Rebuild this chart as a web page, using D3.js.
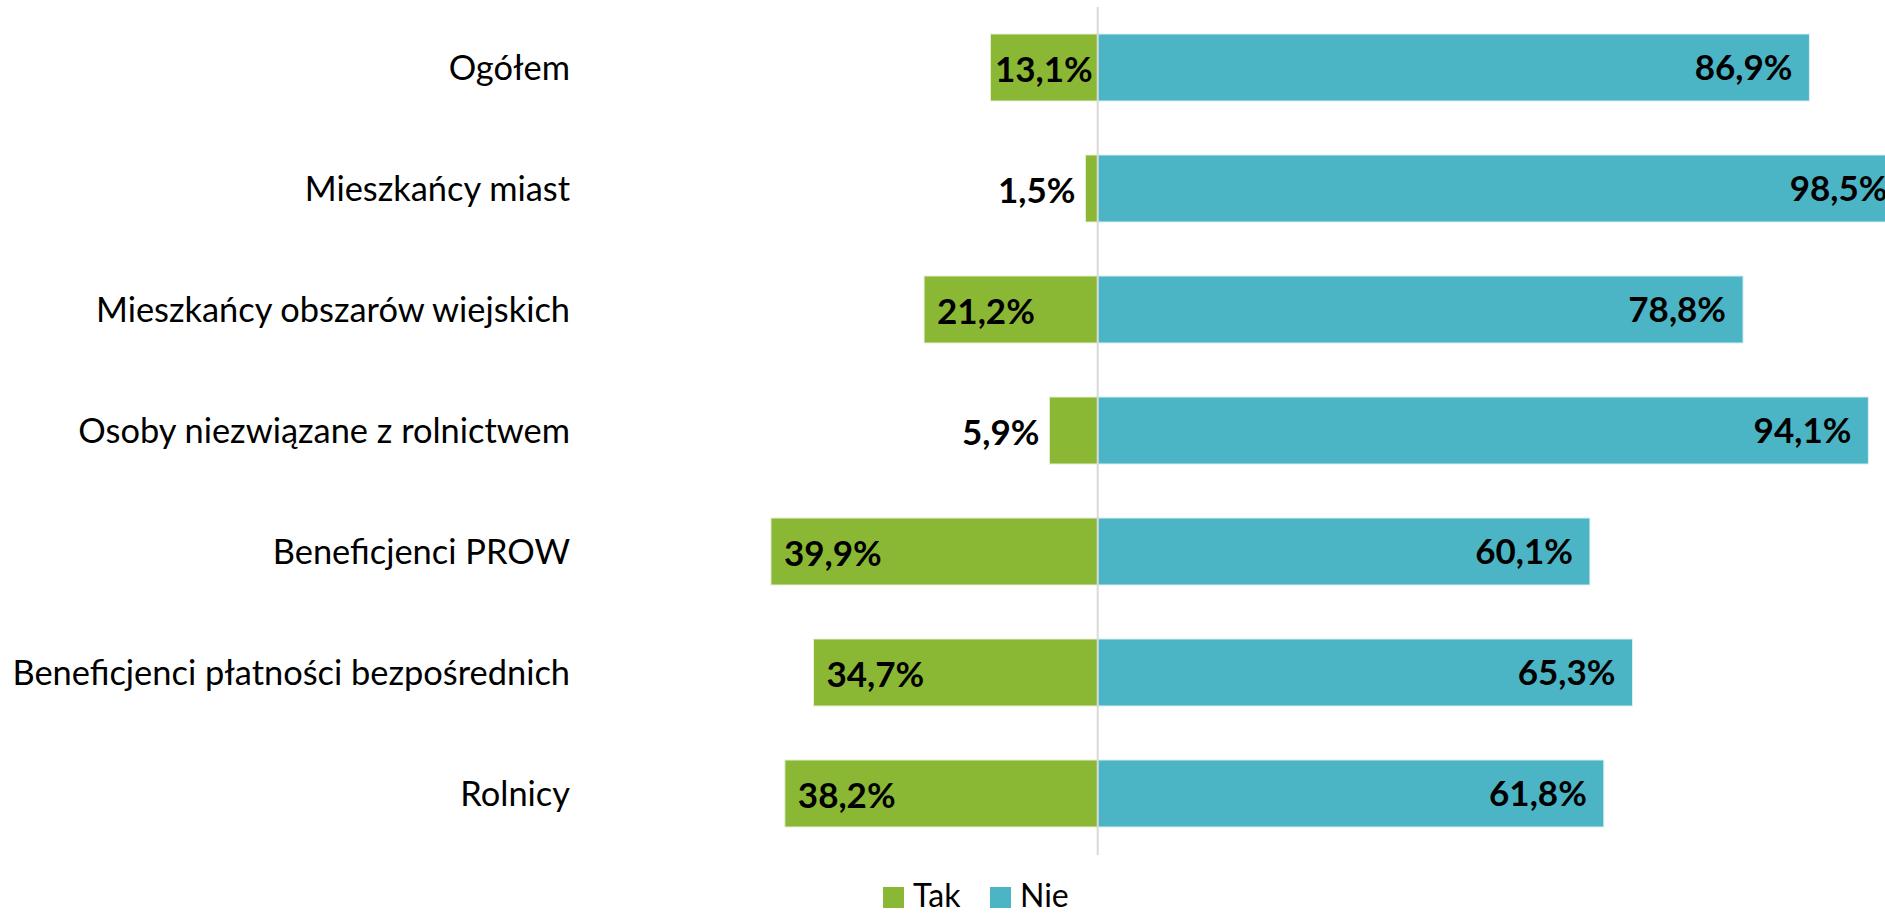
<!DOCTYPE html>
<html>
<head>
<meta charset="utf-8">
<script src="https://cdn.jsdelivr.net/npm/d3@7"></script>
<style>
  body { margin: 0; background: #fff; }
  svg text { font-family: Lato, "Open Sans", sans-serif; }
</style>
</head>
<body>
<div id="chart"></div>
<script>
// data
var categories = ["Ogółem", "Mieszkańcy miast", "Mieszkańcy obszarów wiejskich",
  "Osoby niezwiązane z rolnictwem", "Beneficjenci PROW",
  "Beneficjenci płatności bezpośrednich", "Rolnicy"]
var tak = [13.1, 1.5, 21.2, 5.9, 39.9, 34.7, 38.2]
var nie = [86.9, 98.5, 78.8, 94.1, 60.1, 65.3, 61.8]
var seriesNames = ["Tak", "Nie"]
var colors = ["#8bb834", "#4bb5c5"]

var width = 1885, height = 913

var svg = d3.select("#chart").append("svg")
    .attr("width", width)
    .attr("height", height)

// scales
var x = d3.scaleLinear().domain([-50, 100]).range([688.2, 1916.7])
var y = d3.scaleBand().domain(categories).range([7, 854])
    .paddingInner(0.446).paddingOuter(0.223)

var fmt = function(v) { return d3.format(".1f")(v).replace(".", ",") + "%" }

var rows = categories.map(function(c, i) { return {cat: c, tak: tak[i], nie: nie[i]} })

// category labels
svg.append("g").selectAll("text")
    .data(rows)
  .enter().append("text")
    .attr("x", 570)
    .attr("y", function(d) { return y(d.cat) + y.bandwidth() / 2 })
    .attr("dy", "0.35em")
    .attr("text-anchor", "end")
    .style("font-size", "34.4px")
    .style("fill", "#000")
    .text(function(d) { return d.cat })

// Tak bars (to the left)
svg.append("g").selectAll("rect")
    .data(rows)
  .enter().append("rect")
    .attr("x", function(d) { return x(-d.tak) })
    .attr("y", function(d) { return y(d.cat) })
    .attr("width", function(d) { return x(0) - x(-d.tak) })
    .attr("height", y.bandwidth())
    .style("fill", colors[0])
    .style("stroke", "#e8f0d8")
    .style("stroke-width", 1)

// Nie bars (to the right)
svg.append("g").selectAll("rect")
    .data(rows)
  .enter().append("rect")
    .attr("x", x(0))
    .attr("y", function(d) { return y(d.cat) })
    .attr("width", function(d) { return x(d.nie) - x(0) })
    .attr("height", y.bandwidth())
    .style("fill", colors[1])
    .style("stroke", "#dcf0f3")
    .style("stroke-width", 1)

// zero line
svg.append("line")
    .attr("x1", x(0)).attr("x2", x(0))
    .attr("y1", 7).attr("y2", 855)
    .style("stroke", "#d9d9d9")
    .style("stroke-width", 2)

// Tak labels: small values outside, short bars right-aligned, long bars from the left
function takX(d) {
  if (d.tak < 10) return x(-d.tak) - 10
  if (d.tak < 15) return x(0) - 5
  return x(-d.tak) + 13
}
svg.append("g").selectAll("text")
    .data(rows)
  .enter().append("text")
    .attr("x", takX)
    .attr("y", function(d) { return y(d.cat) + y.bandwidth() / 2 + 2 })
    .attr("dy", "0.35em")
    .attr("text-anchor", function(d) { return d.tak < 15 ? "end" : "start" })
    .style("font-size", "35px")
    .style("font-weight", "bold")
    .text(function(d) { return fmt(d.tak) })

// Nie labels, inside end
svg.append("g").selectAll("text")
    .data(rows)
  .enter().append("text")
    .attr("x", function(d) { return x(d.nie) - 17 })
    .attr("y", function(d) { return y(d.cat) + y.bandwidth() / 2 })
    .attr("dy", "0.35em")
    .attr("text-anchor", "end")
    .style("font-size", "35px")
    .style("font-weight", "bold")
    .text(function(d) { return fmt(d.nie) })

// legend
var legend = svg.append("g").selectAll("g")
    .data(seriesNames)
  .enter().append("g")
    .attr("transform", function(d, i) { return "translate(" + (883 + i * 107) + ",887)" })

legend.append("rect")
    .attr("width", 21).attr("height", 21)
    .style("fill", function(d, i) { return colors[i] })

legend.append("text")
    .attr("x", 30)
    .attr("y", 20)
    .style("font-size", "32px")
    .text(function(d) { return d })
</script>
</body>
</html>
